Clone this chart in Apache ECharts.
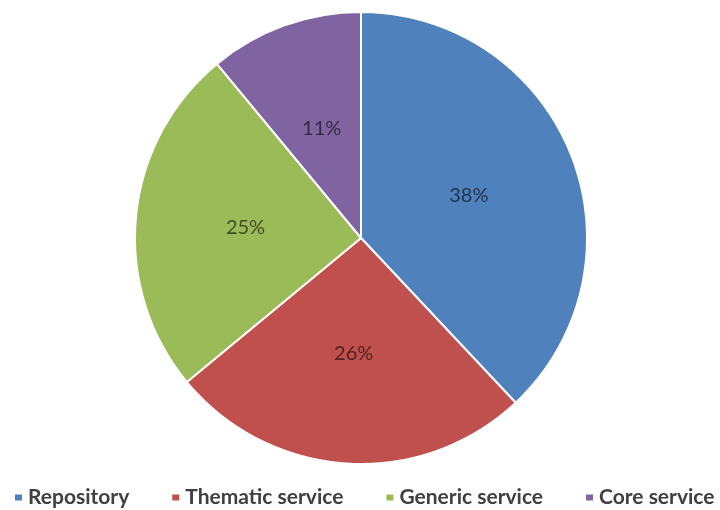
<!DOCTYPE html>
<html>
<head>
<meta charset="utf-8">
<script src="https://cdn.jsdelivr.net/npm/echarts@6/dist/echarts.min.js"></script>
<style>html,body{margin:0;padding:0;background:#fff;}#c{width:720px;height:510px;}</style>
</head>
<body>
<div id="c"></div>
<script>
const categories = ["Repository", "Thematic service", "Generic service", "Core service"];
const values = [38, 26, 25, 11];
const colors = ["#4F81BD", "#C0504D", "#9BBB59", "#8064A2"];

const chart = echarts.init(document.getElementById('c'), null, {renderer: 'canvas'});
chart.setOption({
  animation: false,
  color: colors,
  legend: {
    top: 487,
    left: 13,
    padding: 0,
    width: 707,
    icon: 'rect',
    itemWidth: 9,
    itemHeight: 8,
    itemGap: 41,
    textStyle: {fontFamily: 'Lato', fontWeight: 'bold', fontSize: 21, color: '#404040'},
    data: categories
  },
  series: [{
    type: 'pie',
    center: [361, 238],
    radius: [0, 226],
    startAngle: 90,
    clockwise: true,
    itemStyle: {borderColor: '#fff', borderWidth: 2},
    label: {
      show: true,
      position: 'inside',
      formatter: '{d}%',
      fontFamily: 'Lato',
      fontSize: 20,
      color: 'rgba(0,0,0,0.6)'
    },
    labelLine: {show: false},
    emphasis: {disabled: true},
    data: categories.map((n, i) => ({name: n, value: values[i]}))
  }]
});
</script>
</body>
</html>
